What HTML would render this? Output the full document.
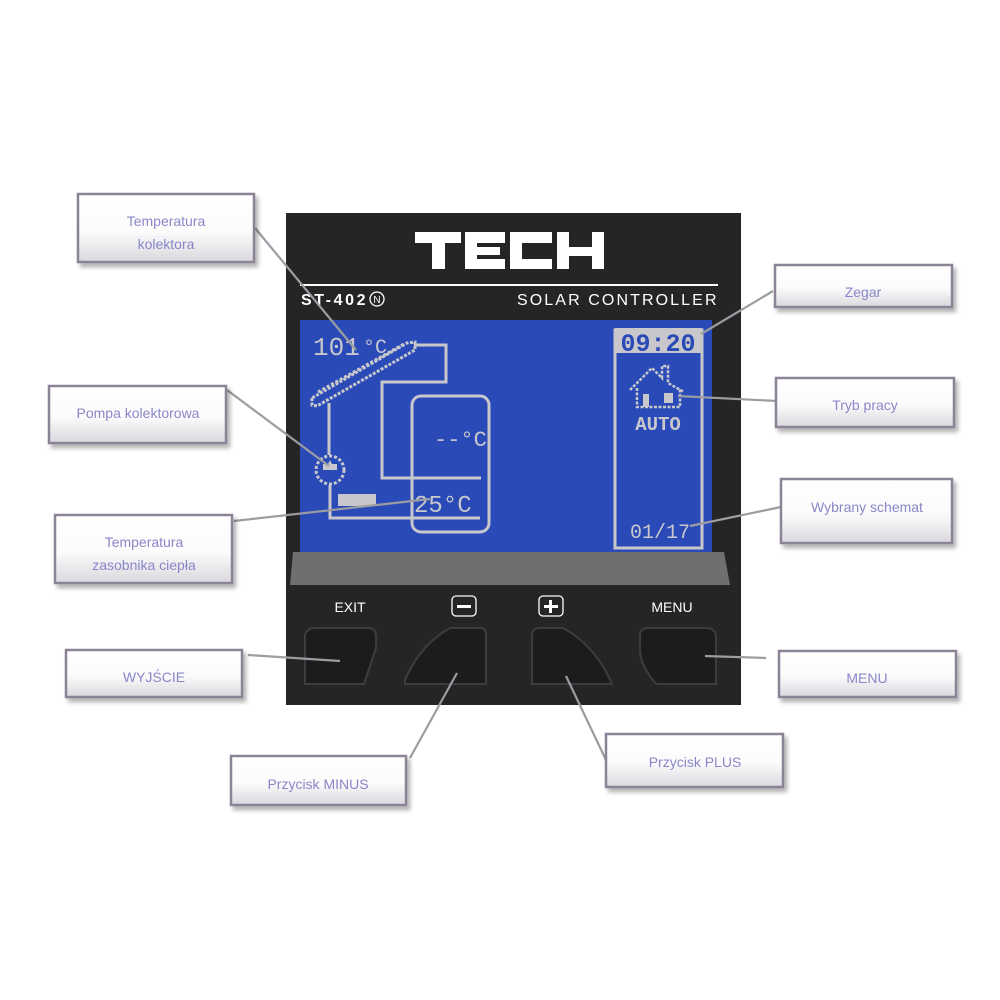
<!DOCTYPE html>
<html><head><meta charset="utf-8"><style>
html,body{margin:0;padding:0;background:#fff;width:1000px;height:1000px;overflow:hidden}
svg{display:block}
.lbl{font-family:"Liberation Sans",sans-serif;font-size:14px;fill:#8a86c8;text-anchor:middle}
.dev{font-family:"Liberation Sans",sans-serif;fill:#fff}
.lcd{font-family:"Liberation Mono",monospace;fill:#c8c8cc}
</style></head><body>
<svg width="1000" height="1000" viewBox="0 0 1000 1000" xmlns="http://www.w3.org/2000/svg">
<defs>
<linearGradient id="bx" x1="0" y1="0" x2="0" y2="1">
<stop offset="0" stop-color="#ffffff"/><stop offset="0.55" stop-color="#fbfbfc"/><stop offset="1" stop-color="#d9d9de"/>
</linearGradient>
<filter id="sh" x="-10%" y="-10%" width="130%" height="140%"><feDropShadow dx="3" dy="4" stdDeviation="2" flood-color="#000" flood-opacity="0.3"/></filter>
</defs>
<rect x="286" y="213" width="455" height="492" fill="#252526"/>
<g fill="#fff">
<rect x="415" y="232" width="46" height="11"/><rect x="432" y="232" width="13" height="37"/>
<rect x="465" y="232" width="40" height="11"/><rect x="465" y="232" width="12" height="37"/><rect x="465" y="247" width="35" height="8"/><rect x="465" y="259" width="40" height="10"/>
<rect x="510" y="232" width="42" height="11"/><rect x="510" y="232" width="12" height="37"/><rect x="510" y="259" width="42" height="10"/>
<rect x="557" y="232" width="12" height="37"/><rect x="592" y="232" width="12" height="37"/><rect x="557" y="247" width="47" height="9"/>
</g>
<rect x="300" y="284" width="418" height="2" fill="#fff"/>
<text x="301" y="305" class="dev" font-size="16" font-weight="bold" letter-spacing="0.5" textLength="65">ST-402</text>
<circle cx="377" cy="299" r="7" fill="none" stroke="#fff" stroke-width="1.3"/>
<text x="377" y="303" class="dev" font-size="10" text-anchor="middle">N</text>
<text x="717" y="305" class="dev" font-size="16" text-anchor="end" letter-spacing="0.5" textLength="200">SOLAR CONTROLLER</text>
<rect x="300" y="320" width="412" height="232" fill="#2a4ab8"/>
<polygon points="293,552 724,552 730,585 290,585" fill="#6f6f70"/>
<g fill="none" stroke="#c8c8cc" stroke-width="3">
<polygon points="312,398 312,405 317,406 415,350 415,342 407,343" stroke-dasharray="3 1.5"/>
<line x1="318" y1="392" x2="404" y2="344" stroke-dasharray="3 2"/>
<polyline points="414,345 446,345 446,382 382,382 382,478 481,478"/>
<polyline points="329,403 329,455"/>
<circle cx="330" cy="470" r="14" stroke-dasharray="3 2"/>
<polyline points="330,485 330,518 480,518"/>
<rect x="412" y="396" width="77" height="136" rx="9"/>
<rect x="615" y="330" width="87" height="218"/>
</g>
<rect x="338" y="494" width="38" height="12" fill="#c8c8cc"/>
<polygon points="323,470 337,470 337,464 332,464 330,460 328,464 323,464" fill="#c8c8cc"/>
<rect x="615" y="328" width="87" height="25" fill="#c8c8cc"/>
<text x="658" y="351" class="lcd" font-size="25" font-weight="bold" text-anchor="middle" style="fill:#2a4ab8">09:20</text>
<text x="313" y="355" class="lcd" font-size="26">101</text>
<text x="363" y="353" class="lcd" font-size="20">°C</text>
<text x="434" y="446" class="lcd" font-size="22">--°C</text>
<text x="414" y="512" class="lcd" font-size="24">25°C</text>
<path d="M630,390 L652,368 L662,378 L662,366 L668,366 L668,383 L684,392 M637,388 L637,407 L680,407 L680,388" fill="none" stroke="#c8c8cc" stroke-width="2.5" stroke-dasharray="3 1.5"/>
<rect x="643" y="394" width="6" height="13" fill="#c8c8cc"/><rect x="664" y="393" width="9" height="10" fill="#c8c8cc"/>
<text x="658" y="430" class="lcd" font-size="19" font-weight="bold" text-anchor="middle">AUTO</text>
<text x="660" y="538" class="lcd" font-size="20" text-anchor="middle">01/17</text>
<text x="350" y="612" class="dev" font-size="14" text-anchor="middle">EXIT</text>
<rect x="452" y="596" width="24" height="20" rx="4" fill="none" stroke="#fff" stroke-width="1.3"/><rect x="457" y="605" width="14" height="3" fill="#fff"/>
<rect x="539" y="596" width="24" height="20" rx="4" fill="none" stroke="#fff" stroke-width="1.3"/><rect x="544" y="605" width="14" height="3" fill="#fff"/><rect x="549" y="600" width="3" height="13" fill="#fff"/>
<text x="672" y="612" class="dev" font-size="14" text-anchor="middle">MENU</text>
<g fill="#1c1c1d" stroke="#3d3d3f" stroke-width="2">
<path d="M305,635 Q307,628 315,628 L368,628 Q376,628 376,637 L376,648 L364,684 L305,684 Z"/>
<path d="M405,680 Q420,645 450,628 L480,628 Q486,628 486,636 L486,684 L405,684 Z"/>
<path d="M532,636 Q532,628 540,628 L563,628 Q595,645 612,684 L532,684 Z"/>
<path d="M640,636 Q640,628 648,628 L706,628 Q716,628 716,638 L716,684 L656,684 Q640,665 640,650 Z"/>
</g>
<g stroke="#9c9ca3" stroke-width="2.2" fill="none">
<line x1="255" y1="228" x2="356" y2="350"/>
<line x1="227" y1="390" x2="329" y2="466"/>
<line x1="234" y1="521" x2="430" y2="499"/>
<line x1="248" y1="655" x2="340" y2="661"/>
<line x1="410" y1="758" x2="457" y2="673"/>
<line x1="606" y1="760" x2="566" y2="676"/>
<line x1="766" y1="658" x2="705" y2="656"/>
<line x1="781" y1="507" x2="690" y2="526"/>
<line x1="777" y1="401" x2="678" y2="396"/>
<line x1="773" y1="291" x2="701" y2="334"/>
</g>
<g filter="url(#sh)" fill="url(#bx)" stroke="#8d8396" stroke-width="2.5">
<rect x="78" y="194" width="176" height="68"/>
<rect x="49" y="386" width="177" height="57"/>
<rect x="55" y="515" width="177" height="68"/>
<rect x="66" y="650" width="176" height="47"/>
<rect x="231" y="756" width="175" height="49"/>
<rect x="606" y="734" width="177" height="53"/>
<rect x="779" y="651" width="177" height="46"/>
<rect x="781" y="479" width="171" height="64"/>
<rect x="776" y="378" width="178" height="49"/>
<rect x="775" y="265" width="177" height="42"/>
</g>
<text x="166" y="226" class="lbl">Temperatura</text>
<text x="166" y="249" class="lbl">kolektora</text>
<text x="138" y="418" class="lbl">Pompa kolektorowa</text>
<text x="144" y="547" class="lbl">Temperatura</text>
<text x="144" y="570" class="lbl">zasobnika ciepła</text>
<text x="154" y="682" class="lbl">WYJŚCIE</text>
<text x="318" y="789" class="lbl">Przycisk MINUS</text>
<text x="695" y="767" class="lbl">Przycisk PLUS</text>
<text x="867" y="683" class="lbl">MENU</text>
<text x="867" y="512" class="lbl">Wybrany schemat</text>
<text x="865" y="410" class="lbl">Tryb pracy</text>
<text x="863" y="297" class="lbl">Zegar</text>
</svg>
</body></html>
